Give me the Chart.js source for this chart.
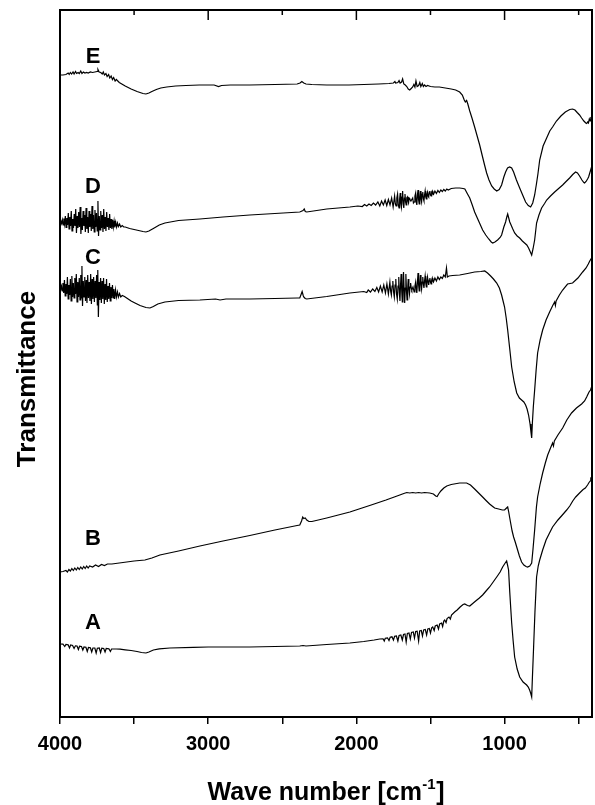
<!DOCTYPE html>
<html>
<head>
<meta charset="utf-8">
<script src="https://cdn.jsdelivr.net/npm/chart.js@4.4.1/dist/chart.umd.min.js"></script>
<style>
  html, body { margin: 0; padding: 0; background: #fff; }
  canvas { display: block; }
</style>
</head>
<body>
<canvas id="c" width="595" height="805"></canvas>
<script>
// ---- DATA (wavenumber cm-1, transmittance a.u.) ----
const xTickValues = [4000, 3500, 3000, 2500, 2000, 1500, 1000, 500];
const curveNames = ['E', 'D', 'C', 'B', 'A'];
const curveLabelWn = [3777, 3777, 3777, 3777, 3777];
const curveLabelT = [66.0, 53.0, 45.9, 17.8, 9.4];

const seriesE = [[4000,64.2],[3980,64.2],[3960,64.25],[3945,64.4],[3938,64.25],[3930,64.45],[3922,64.3],[3912,64.5],[3905,64.3],[3895,64.55],[3888,64.35],[3878,64.45],[3870,64.35],[3860,64.6],[3852,64.35],[3842,64.5],[3832,64.4],[3820,64.45],[3810,64.4],[3795,64.5],[3780,64.45],[3765,64.5],[3750,64.55],[3744,64.75],[3736,64.5],[3725,64.45],[3715,64.3],[3708,64.5],[3700,64.2],[3690,64.35],[3682,64.05],[3672,64.25],[3664,63.9],[3655,64.1],[3646,63.75],[3638,63.95],[3628,63.6],[3620,63.75],[3600,63.45],[3560,63.1],[3520,62.8],[3480,62.55],[3440,62.35],[3420,62.3],[3400,62.4],[3380,62.55],[3350,62.75],[3320,62.9],[3280,63.0],[3220,63.1],[3150,63.15],[3060,63.2],[2960,63.2],[2930,63.05],[2910,63.15],[2850,63.2],[2720,63.2],[2550,63.25],[2400,63.3],[2380,63.4],[2368,63.55],[2355,63.4],[2340,63.3],[2300,63.25],[2200,63.2],[2050,63.2],[1950,63.25],[1850,63.3],[1780,63.35],[1750,63.4],[1740,63.55],[1735,63.4],[1720,63.45],[1712,63.65],[1705,63.4],[1695,63.5],[1688,63.8],[1680,63.3],[1670,63.2],[1660,63.05],[1650,62.8],[1640,62.7],[1630,62.85],[1620,63.0],[1612,63.25],[1605,63.0],[1598,63.6],[1590,63.05],[1580,63.15],[1572,63.45],[1565,63.05],[1555,63.35],[1548,63.05],[1540,63.2],[1530,63.05],[1520,63.15],[1500,63.05],[1470,63.0],[1440,63.0],[1400,62.9],[1360,62.8],[1330,62.7],[1303,62.5],[1285,62.2],[1272,61.7],[1265,61.5],[1256,61.65],[1248,61.3],[1235,60.6],[1220,59.9],[1202,59.0],[1185,58.1],[1168,57.2],[1150,56.1],[1135,55.2],[1121,54.4],[1105,53.7],[1087,53.1],[1070,52.8],[1053,52.6],[1036,52.75],[1020,53.2],[1005,54.0],[993,54.5],[980,54.9],[966,55.0],[952,54.9],[939,54.5],[920,53.7],[898,52.9],[878,52.2],[858,51.5],[840,51.15],[824,51.0],[810,51.4],[797,52.2],[785,53.3],[775,54.3],[763,55.7],[740,57.1],[716,57.9],[695,58.6],[676,59.0],[650,59.6],[620,60.1],[590,60.5],[560,60.75],[541,60.8],[525,60.7],[510,60.45],[494,60.2],[480,59.9],[465,59.6],[452,59.4],[446,59.35],[440,59.5],[434,59.4],[428,59.8],[422,59.6],[418,59.9],[413,59.85]];

const seriesD = [[4000,49.5],[3994,49.6],[3989,49.35],[3984,49.7],[3979,49.2],[3974,49.85],[3969,49.3],[3964,50.1],[3959,48.95],[3954,49.9],[3949,49.2],[3944,50.4],[3939,48.8],[3934,50.0],[3929,49.1],[3924,50.6],[3919,48.6],[3914,49.8],[3909,48.9],[3904,50.3],[3899,49.1],[3894,50.8],[3889,48.4],[3884,50.1],[3879,48.9],[3874,50.5],[3869,49.0],[3864,51.0],[3859,48.3],[3854,49.9],[3849,48.7],[3844,50.6],[3839,49.1],[3834,50.2],[3829,48.5],[3824,50.9],[3819,48.8],[3814,50.0],[3809,48.4],[3804,50.6],[3799,49.0],[3794,50.3],[3789,48.6],[3784,51.1],[3779,48.8],[3774,50.2],[3769,48.5],[3764,50.7],[3759,49.0],[3754,50.4],[3749,48.6],[3744,51.6],[3740,48.1],[3735,50.1],[3730,48.7],[3725,50.6],[3720,48.9],[3715,50.2],[3710,48.5],[3705,50.8],[3700,48.8],[3695,50.0],[3690,48.6],[3685,50.5],[3680,49.0],[3675,49.9],[3670,48.7],[3665,50.3],[3660,48.9],[3655,49.8],[3650,48.8],[3645,49.7],[3640,49.0],[3635,49.6],[3630,48.95],[3624,49.5],[3618,49.0],[3612,49.4],[3606,49.05],[3598,49.3],[3590,49.0],[3580,49.15],[3570,49.0],[3560,49.0],[3530,48.85],[3500,48.75],[3470,48.65],[3440,48.55],[3420,48.5],[3400,48.6],[3370,48.85],[3330,49.2],[3292,49.4],[3200,49.65],[3056,49.8],[2900,50.0],[2719,50.2],[2550,50.35],[2382,50.5],[2360,50.65],[2352,50.8],[2345,50.55],[2335,50.5],[2200,50.8],[2044,51.0],[1990,51.1],[1960,51.05],[1945,51.25],[1930,51.1],[1915,51.3],[1900,51.15],[1885,51.4],[1870,51.2],[1855,51.5],[1842,51.1],[1830,51.6],[1818,51.2],[1806,51.7],[1795,51.15],[1784,51.75],[1773,51.2],[1762,51.9],[1752,51.0],[1742,52.1],[1737,51.3],[1732,51.1],[1727,51.9],[1722,52.3],[1717,51.2],[1712,50.9],[1708,51.8],[1704,52.4],[1700,51.4],[1696,51.0],[1692,52.0],[1688,52.6],[1684,51.3],[1680,50.9],[1676,51.9],[1672,52.3],[1668,51.5],[1664,51.2],[1660,51.9],[1656,52.0],[1652,51.6],[1648,51.4],[1644,51.9],[1640,51.8],[1632,51.6],[1620,51.9],[1615,51.4],[1610,51.5],[1605,52.1],[1600,52.4],[1596,51.5],[1592,51.2],[1588,52.2],[1584,52.7],[1580,51.7],[1576,51.3],[1572,52.0],[1568,52.6],[1564,51.8],[1560,51.5],[1556,52.3],[1552,52.5],[1548,51.8],[1544,51.6],[1540,52.2],[1536,52.6],[1532,52.0],[1528,51.8],[1524,52.3],[1520,52.5],[1516,52.1],[1512,52.0],[1508,52.5],[1504,52.6],[1500,52.2],[1496,52.1],[1492,52.5],[1488,52.6],[1484,52.3],[1480,52.25],[1470,52.6],[1460,52.35],[1450,52.65],[1440,52.45],[1430,52.7],[1420,52.55],[1410,52.75],[1400,52.6],[1390,52.8],[1380,52.7],[1360,52.85],[1330,52.9],[1303,52.9],[1280,52.85],[1268,52.8],[1250,52.3],[1235,51.9],[1218,51.2],[1202,50.5],[1175,49.6],[1148,48.7],[1127,48.2],[1107,47.8],[1090,47.5],[1080,47.4],[1065,47.5],[1047,47.7],[1030,47.95],[1020,48.2],[1005,49.0],[993,49.5],[985,50.0],[979,50.3],[972,49.9],[965,49.5],[959,49.3],[946,48.85],[932,48.4],[915,48.1],[898,47.9],[880,47.6],[865,47.4],[850,47.2],[838,46.9],[826,46.5],[817,46.2],[808,46.8],[797,47.7],[784,49.4],[768,50.2],[750,50.9],[730,51.35],[716,51.7],[690,52.1],[662,52.5],[635,52.85],[608,53.2],[585,53.55],[561,53.9],[540,54.25],[521,54.5],[508,54.4],[494,54.1],[478,53.7],[465,53.45],[460,53.4],[450,53.55],[440,53.8],[433,54.0],[425,54.4],[418,54.75],[413,55.0]];

const seriesC = [[4000,42.9],[3995,42.8],[3990,43.1],[3985,42.6],[3980,43.4],[3975,42.4],[3970,43.7],[3965,42.1],[3960,43.3],[3955,42.3],[3950,44.0],[3945,41.8],[3940,43.2],[3935,42.2],[3930,43.8],[3925,41.6],[3920,44.1],[3915,42.0],[3910,43.4],[3905,41.9],[3900,43.9],[3895,42.3],[3890,44.3],[3885,41.5],[3880,43.5],[3875,42.0],[3870,43.9],[3865,41.7],[3860,44.2],[3855,41.9],[3852,45.1],[3848,41.1],[3843,43.6],[3838,42.0],[3833,44.0],[3828,41.6],[3823,43.7],[3818,41.4],[3813,44.2],[3808,41.9],[3803,43.5],[3798,41.6],[3793,44.3],[3788,41.3],[3783,43.8],[3778,41.8],[3773,44.0],[3768,41.5],[3763,43.6],[3758,41.9],[3753,44.2],[3748,41.2],[3745,44.7],[3741,40.0],[3736,43.5],[3731,41.7],[3726,43.9],[3721,41.4],[3716,43.6],[3711,41.8],[3706,43.9],[3701,41.3],[3696,43.3],[3691,41.7],[3686,43.8],[3681,41.5],[3676,43.1],[3671,41.8],[3666,43.4],[3661,41.6],[3656,43.0],[3651,41.9],[3646,43.2],[3641,41.9],[3636,42.8],[3631,41.8],[3625,42.7],[3619,42.0],[3612,42.5],[3606,42.0],[3598,42.35],[3590,42.0],[3580,42.15],[3565,42.05],[3545,41.85],[3520,41.6],[3494,41.4],[3460,41.15],[3420,40.95],[3393,40.9],[3370,41.05],[3340,41.3],[3292,41.5],[3200,41.65],[3056,41.7],[2950,41.8],[2920,41.7],[2880,41.8],[2719,41.8],[2550,41.85],[2400,41.9],[2382,41.9],[2372,42.3],[2366,42.55],[2358,42.1],[2352,41.95],[2345,41.85],[2335,41.8],[2200,42.05],[2044,42.4],[1950,42.55],[1930,42.45],[1920,42.7],[1905,42.5],[1890,42.8],[1875,42.55],[1862,42.95],[1850,42.5],[1838,43.1],[1826,42.5],[1815,43.2],[1804,42.4],[1794,43.3],[1784,42.3],[1774,43.5],[1769,42.6],[1764,42.2],[1759,43.1],[1754,43.6],[1749,42.5],[1744,42.0],[1739,43.2],[1734,43.8],[1729,42.3],[1724,41.8],[1719,43.1],[1714,44.0],[1710,42.4],[1706,41.6],[1702,43.2],[1698,44.3],[1694,42.6],[1690,41.5],[1686,43.0],[1682,44.5],[1678,42.7],[1674,41.4],[1670,42.9],[1666,44.3],[1662,42.6],[1658,41.7],[1654,42.8],[1650,43.8],[1646,42.8],[1642,42.3],[1638,43.0],[1634,43.4],[1630,42.9],[1626,42.7],[1618,43.0],[1610,42.5],[1605,43.1],[1600,43.5],[1596,42.8],[1592,42.4],[1588,43.5],[1584,44.4],[1580,43.2],[1576,42.6],[1572,43.4],[1568,44.2],[1564,43.3],[1560,42.8],[1556,43.5],[1552,44.0],[1548,43.3],[1544,42.9],[1540,43.6],[1536,44.1],[1532,43.4],[1528,43.0],[1524,43.6],[1520,44.0],[1516,43.5],[1512,43.2],[1508,43.7],[1504,43.9],[1500,43.5],[1496,43.3],[1492,43.7],[1488,43.9],[1484,43.6],[1480,43.5],[1470,43.9],[1460,43.6],[1450,44.0],[1440,43.75],[1430,44.0],[1420,43.85],[1410,44.2],[1400,44.0],[1392,44.9],[1386,44.0],[1375,44.1],[1350,44.15],[1303,44.2],[1250,44.35],[1202,44.5],[1160,44.55],[1134,44.6],[1115,44.4],[1094,44.1],[1075,43.8],[1053,43.4],[1035,42.9],[1020,42.2],[1010,41.6],[1000,41.0],[989,39.9],[979,38.7],[965,36.8],[952,35.0],[935,33.5],[918,32.4],[900,31.9],[885,31.7],[870,31.5],[858,31.2],[848,30.8],[838,30.2],[828,29.3],[822,28.5],[817,27.9],[812,29.5],[806,31.0],[797,32.7],[787,34.7],[777,36.4],[760,37.7],[743,38.7],[720,39.7],[696,40.5],[675,41.15],[662,41.5],[657,41.15],[652,41.6],[630,42.2],[608,42.7],[575,43.3],[541,43.4],[505,43.9],[473,44.5],[450,44.9],[435,45.3],[425,45.6],[413,45.9]];

const seriesB = [[4000,14.5],[3980,14.55],[3960,14.65],[3950,14.5],[3940,14.75],[3930,14.6],[3920,14.85],[3910,14.65],[3900,14.9],[3890,14.7],[3880,14.95],[3870,14.75],[3860,15.0],[3850,14.8],[3840,15.05],[3830,14.85],[3820,15.1],[3810,14.9],[3800,15.1],[3780,15.0],[3760,15.2],[3740,15.05],[3720,15.25],[3700,15.15],[3680,15.3],[3650,15.3],[3600,15.4],[3550,15.5],[3500,15.6],[3427,15.7],[3380,15.9],[3326,16.2],[3200,16.6],[3056,17.1],[2900,17.6],[2719,18.15],[2550,18.7],[2400,19.15],[2382,19.2],[2370,19.6],[2362,20.0],[2355,19.85],[2345,19.9],[2335,19.7],[2320,19.55],[2300,19.55],[2200,19.9],[2044,20.5],[1900,21.2],[1800,21.7],[1707,22.2],[1680,22.35],[1660,22.45],[1640,22.4],[1620,22.45],[1600,22.4],[1580,22.45],[1560,22.4],[1540,22.45],[1505,22.4],[1480,22.3],[1465,22.1],[1455,22.05],[1445,22.3],[1430,22.6],[1410,22.9],[1390,23.1],[1360,23.25],[1303,23.4],[1256,23.4],[1230,23.2],[1202,22.8],[1175,22.4],[1148,22.0],[1125,21.65],[1101,21.3],[1080,21.05],[1067,20.9],[1040,20.8],[1015,20.7],[1000,20.7],[990,20.85],[979,21.0],[972,20.5],[965,19.9],[959,19.4],[949,18.6],[939,18.0],[928,17.5],[918,17.0],[900,16.1],[885,15.5],[870,15.2],[855,15.05],[845,15.0],[830,15.1],[817,15.4],[808,16.8],[797,18.7],[785,21.0],[777,22.0],[760,23.3],[743,24.4],[725,25.4],[709,26.2],[690,26.9],[676,27.4],[670,27.1],[664,27.6],[640,28.2],[608,28.9],[580,29.7],[548,30.4],[515,30.9],[480,31.3],[460,31.6],[446,32.0],[430,32.5],[420,32.7],[413,33.0]];

const seriesA = [[4000,7.3],[3980,7.28],[3968,7.05],[3960,7.25],[3945,7.22],[3936,6.9],[3928,7.2],[3915,7.15],[3905,6.85],[3896,7.12],[3885,7.1],[3876,6.75],[3868,7.08],[3855,7.05],[3846,6.7],[3838,7.0],[3825,6.98],[3816,6.55],[3808,6.95],[3795,6.93],[3786,6.5],[3778,6.9],[3765,6.9],[3756,6.4],[3748,6.88],[3735,6.9],[3726,6.45],[3718,6.88],[3705,6.85],[3696,6.5],[3688,6.85],[3670,6.82],[3660,6.55],[3652,6.8],[3620,6.8],[3595,6.78],[3560,6.72],[3520,6.65],[3480,6.55],[3450,6.45],[3420,6.4],[3400,6.5],[3370,6.7],[3330,6.82],[3258,6.9],[3100,6.97],[3000,7.0],[2850,7.0],[2719,7.0],[2550,7.05],[2382,7.1],[2360,7.15],[2340,7.1],[2200,7.25],[2044,7.4],[1950,7.55],[1880,7.7],[1842,7.8],[1820,7.82],[1812,7.6],[1805,7.88],[1790,7.92],[1780,7.65],[1772,7.98],[1760,8.02],[1750,7.7],[1742,8.08],[1730,8.1],[1720,7.6],[1712,8.15],[1700,8.2],[1690,7.7],[1682,8.25],[1672,8.3],[1664,7.5],[1656,8.35],[1645,8.4],[1636,7.8],[1628,8.45],[1616,8.5],[1608,7.9],[1600,8.55],[1590,8.58],[1580,7.6],[1573,8.6],[1562,8.65],[1554,8.1],[1546,8.7],[1535,8.75],[1526,8.2],[1518,8.8],[1508,8.85],[1500,8.4],[1492,8.92],[1485,9.0],[1475,8.65],[1468,9.1],[1455,9.2],[1446,8.8],[1438,9.3],[1425,9.4],[1418,9.05],[1410,9.6],[1404,9.7],[1395,9.45],[1388,9.85],[1375,10.0],[1366,9.8],[1358,10.2],[1337,10.5],[1320,10.7],[1300,11.0],[1280,11.25],[1269,11.3],[1250,11.15],[1235,11.1],[1215,11.35],[1195,11.6],[1170,11.9],[1148,12.2],[1125,12.6],[1101,13.0],[1077,13.5],[1053,14.0],[1030,14.5],[1013,15.0],[998,15.35],[986,15.6],[980,15.2],[973,14.7],[965,12.5],[958,10.8],[952,9.4],[942,7.6],[932,6.0],[915,4.8],[898,4.0],[875,3.5],[851,3.2],[840,3.0],[831,2.7],[824,2.4],[817,2.0],[812,4.0],[804,7.0],[795,10.5],[784,14.0],[773,15.1],[763,15.7],[743,16.7],[720,17.7],[700,18.3],[676,19.0],[640,19.7],[610,20.2],[581,20.7],[560,21.1],[540,21.6],[520,22.0],[494,22.4],[470,22.75],[455,22.9],[440,23.2],[430,23.45],[422,23.6],[418,23.9],[413,24.0]];

// ---- CHART ----
const FONT = "'Liberation Sans', Arial, Helvetica, sans-serif";
const toXY = s => s.map(p => ({ x: p[0], y: p[1] }));
const allSeries = [seriesE, seriesD, seriesC, seriesB, seriesA];

const framePlugin = {
  id: 'frame',
  afterDraw(chart) {
    const { ctx, chartArea: a, scales } = chart;
    const xs = scales.x, ys = scales.y;
    ctx.save();
    ctx.strokeStyle = '#000';
    ctx.lineWidth = 2;
    ctx.strokeRect(a.left, a.top, a.right - a.left, a.bottom - a.top);
    // inward ticks on top edge
    ctx.lineWidth = 1.5;
    xTickValues.forEach(v => {
      const px = xs.getPixelForValue(v);
      if (px <= a.left + 1 || px >= a.right - 1) return;
      const len = v % 1000 === 0 ? 10 : 5;
      ctx.beginPath();
      ctx.moveTo(px, a.top);
      ctx.lineTo(px, a.top + len);
      ctx.stroke();
    });
    // curve labels
    ctx.fillStyle = '#000';
    ctx.font = "bold 22px " + FONT;
    ctx.textAlign = 'center';
    ctx.textBaseline = 'middle';
    curveNames.forEach((n, i) => {
      ctx.fillText(n, xs.getPixelForValue(curveLabelWn[i]), ys.getPixelForValue(curveLabelT[i]));
    });
    // y axis title
    ctx.save();
    ctx.translate(28, 379);
    ctx.rotate(-Math.PI / 2);
    ctx.font = "bold 26px " + FONT;
    ctx.textAlign = 'center';
    ctx.textBaseline = 'middle';
    ctx.fillText('Transmittance', 0, 0);
    ctx.restore();
    // x axis title with superscript
    const main = 'Wave number [cm';
    const sup = '-1';
    const end = ']';
    ctx.font = "bold 25px " + FONT;
    const wMain = ctx.measureText(main).width;
    const wEnd = ctx.measureText(end).width;
    ctx.font = "bold 15px " + FONT;
    const wSup = ctx.measureText(sup).width;
    const total = wMain + wSup + wEnd + 1;
    const cx = (a.left + a.right) / 2;
    const baseY = 800;
    let x0 = cx - total / 2;
    ctx.textAlign = 'left';
    ctx.textBaseline = 'alphabetic';
    ctx.font = "bold 25px " + FONT;
    ctx.fillText(main, x0, baseY);
    ctx.font = "bold 15px " + FONT;
    ctx.fillText(sup, x0 + wMain + 0.5, baseY - 11);
    ctx.font = "bold 25px " + FONT;
    ctx.fillText(end, x0 + wMain + wSup + 1, baseY);
    ctx.restore();
  }
};

new Chart(document.getElementById('c'), {
  type: 'line',
  data: {
    datasets: allSeries.map((s, i) => ({
      label: curveNames[i],
      data: toXY(s),
      borderColor: '#000',
      borderWidth: 1.2,
      pointRadius: 0,
      tension: 0,
      fill: false
    }))
  },
  options: {
    responsive: false,
    animation: false,
    devicePixelRatio: 1,
    layout: { padding: { top: 10, right: 3, left: 0, bottom: 0 } },
    plugins: { legend: { display: false }, tooltip: { enabled: false } },
    scales: {
      x: {
        type: 'linear',
        reverse: true,
        min: 410,
        max: 4000,
        afterBuildTicks: s => { s.ticks = xTickValues.map(v => ({ value: v })); },
        afterFit: s => { s.height = 88; },
        ticks: {
          autoSkip: false,
          maxRotation: 0,
          padding: 8,
          color: '#000',
          font: { family: FONT, size: 20, weight: 'bold' },
          callback: v => (v % 1000 === 0 ? String(v) : '')
        },
        grid: { display: true, drawOnChartArea: false, drawTicks: true, tickLength: 7, color: '#000', lineWidth: 1.5 },
        border: { display: false }
      },
      y: {
        type: 'linear',
        min: 0,
        max: 70.7,
        afterFit: s => { s.width = 60; },
        ticks: { display: false },
        grid: { display: false, drawTicks: false },
        border: { display: false },
        title: { display: false }
      }
    }
  },
  plugins: [framePlugin]
});
</script>
</body>
</html>
